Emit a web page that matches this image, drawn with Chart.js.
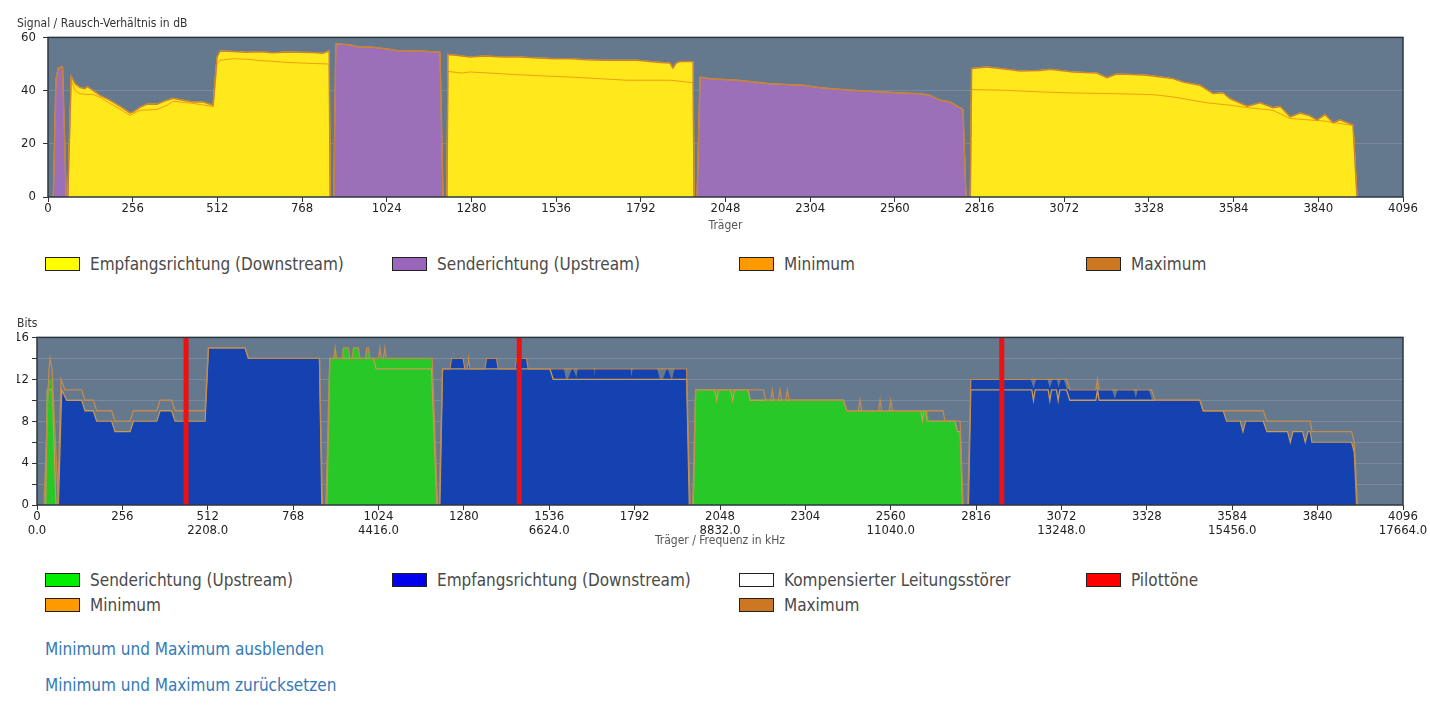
<!DOCTYPE html>
<html lang="de">
<head>
<meta charset="UTF-8">
<title>DSL Spektrum</title>
<script src="https://cdn.jsdelivr.net/npm/chart.js"></script>
<style>
  body { margin: 0; background: #fff; font-family: "DejaVu Sans Condensed", "Liberation Sans", Roboto, sans-serif; }
  .chartBox { position: absolute; left: 17px; width: 1413px; }
  #snrBox { top: 0; height: 237px; }
  #bitsBox { top: 310px; height: 240px; }
  .legend { position: absolute; left: 45px; display: grid; grid-template-columns: repeat(4, 347px); font-size: 17px; color: #4a4a4a; }
  .legend .item { height: 25px; display: flex; align-items: center; white-space: nowrap; }
  .swatch { width: 33px; height: 12px; border: 1px solid #222; margin-right: 10px; }
  .link { position: absolute; left: 45px; color: #3379b7; font-size: 17px; line-height: 24px; text-decoration: none; }
</style>
</head>
<body>
<div id="snrBox" class="chartBox"><canvas id="snrChart"></canvas></div>
<div class="legend" style="top:251px">
  <div class="item"><span class="swatch" style="background:#ffff00"></span>Empfangsrichtung (Downstream)</div>
  <div class="item"><span class="swatch" style="background:#9966bb"></span>Senderichtung (Upstream)</div>
  <div class="item"><span class="swatch" style="background:#ff9900"></span>Minimum</div>
  <div class="item"><span class="swatch" style="background:#cc7722"></span>Maximum</div>
</div>

<div id="bitsBox" class="chartBox"><canvas id="bitsChart"></canvas></div>
<div class="legend" style="top:567px">
  <div class="item"><span class="swatch" style="background:#00ee00"></span>Senderichtung (Upstream)</div>
  <div class="item"><span class="swatch" style="background:#0000ee"></span>Empfangsrichtung (Downstream)</div>
  <div class="item"><span class="swatch" style="background:#ffffff"></span>Kompensierter Leitungsstörer</div>
  <div class="item"><span class="swatch" style="background:#ff0000"></span>Pilottöne</div>
  <div class="item"><span class="swatch" style="background:#ff9900"></span>Minimum</div>
  <div class="item"></div>
  <div class="item"><span class="swatch" style="background:#cc7722"></span>Maximum</div>
</div>

<a class="link" href="#" style="top:637px">Minimum und Maximum ausblenden</a>
<a class="link" href="#" style="top:673px">Minimum und Maximum zurücksetzen</a>

<script>
// ---- data: [carrier, value] per band ----
const carrierTicks = [0, 256, 512, 768, 1024, 1280, 1536, 1792, 2048, 2304, 2560, 2816, 3072, 3328, 3584, 3840, 4096];
const freqTickLabels = ['0.0', '', '2208.0', '', '4416.0', '', '6624.0', '', '8832.0', '', '11040.0', '', '13248.0', '', '15456.0', '', '17664.0'];
const snrTicks = [0, 20, 40, 60];
const bitsTicks = [0, 2, 4, 6, 8, 10, 12, 14, 16];
const bitsTickLabels = ['0', '', '4', '', '8', '', '12', '', '16'];

// Signal / Rausch-Verhältnis
const snrUp = [
  [[16,0],[24,44],[31,48.5],[44,49],[55,0]],
  [[864,0],[870,57.6],[890,57.4],[913,57.2],[943,56.3],[964,56.5],[990,56.2],[1013,55.8],[1040,55.4],[1055,55],[1085,55],[1115,54.9],[1150,54.7],[1185,54.4],[1194,0]],
  [[1962,0],[1971,45.1],[2001,44.5],[2040,44.2],[2083,43.9],[2130,43.3],[2183,42.6],[2230,42.3],[2282,42],[2334,41.1],[2380,40.6],[2434,40.1],[2500,39.6],[2585,39.1],[2640,38.8],[2666,38.2],[2697,36.4],[2727,35.7],[2766,32.9],[2775,0]]
];
const snrDown = [
  [[60,0],[70,45.4],[82,42.6],[97,41.1],[112,40.7],[118,41.6],[136,40.1],[157,38.2],[187,36.4],[218,34.1],[248,31.6],[257,31.9],[278,33.7],[299,34.9],[329,34.9],[360,36.4],[378,37.1],[408,36.4],[438,35.7],[469,35.7],[499,34.5],[511,52.6],[520,54.9],[560,54.7],[600,54.4],[640,54.6],[680,54.2],[720,54.5],[760,54.4],[800,54.3],[830,54],[850,55],[853,0]],
  [[1206,0],[1209,53.6],[1240,53.2],[1276,52.6],[1320,53],[1375,52.6],[1427,52.6],[1478,52.3],[1530,52],[1578,52],[1630,51.6],[1678,51.4],[1730,51.4],[1781,51.4],[1841,50.7],[1880,50.4],[1889,48.5],[1900,50.5],[1911,50.9],[1950,50.9],[1953,0]],
  [[2788,0],[2792,48.3],[2838,48.9],[2898,48],[2938,47.4],[2999,47.6],[3029,48],[3099,47],[3171,46.6],[3201,44.9],[3230,46.2],[3262,46.1],[3322,45.8],[3401,44.5],[3431,43.2],[3483,42],[3522,38.9],[3552,39.2],[3573,37],[3625,34.1],[3664,35.4],[3703,33.6],[3725,34],[3755,30.1],[3785,31.6],[3815,30.5],[3836,28.9],[3860,31],[3885,27.9],[3906,29],[3945,27],[3957,0]]
];
const snrDownMin = [
  [[60,0],[70,44],[82,40],[97,38.8],[112,38.6],[136,38.6],[157,37.5],[187,35.2],[218,33],[248,30.7],[278,32.6],[329,32.9],[360,34.5],[378,36],[438,35.2],[499,34],[511,50],[520,51.4],[560,52],[600,51.8],[640,51.3],[680,51],[720,50.6],[760,50.4],[800,50.2],[850,50],[853,0]],
  [[1206,0],[1209,47.2],[1250,46.6],[1276,47],[1375,46.3],[1478,45.6],[1578,45.1],[1680,44.4],[1750,43.9],[1880,43.9],[1950,43],[1953,0]],
  [[2788,0],[2792,40.4],[2898,40.1],[2999,39.5],[3099,39.1],[3201,38.9],[3340,38.5],[3401,37.6],[3504,35.4],[3573,34.5],[3625,33.6],[3703,32.6],[3755,29.5],[3854,28.6],[3945,26.9],[3957,0]]
];

// Bits pro Träger
const bitsUp = [
  [[24,0],[31,11],[37,12],[47,12],[57,0]],
  [[869,0],[878,14],[890,14],[894,15],[898,14],[915,14],[919,15],[934,15],[938,14],[945,14],[949,15],[964,15],[968,14],[985,14],[989,15],[994,15],[998,14],[1183,14],[1199,0]],
  [[1968,0],[1975,11],[2133,11],[2138,10],[2418,10],[2428,9],[2669,9],[2673,8],[2753,8],[2760,7],[2768,7],[2775,0]]
];
const bitsUpMax = [
  [[21,0],[36,13],[39,14],[45,13],[64,0]],
  [[866,0],[878,14],[890,14],[894,15],[898,14],[915,14],[919,15],[934,15],[938,14],[945,14],[949,15],[964,15],[968,14],[985,14],[989,15],[994,15],[998,14],[1024,14],[1028,15],[1032,14],[1039,14],[1043,15],[1047,14],[1185,14],[1201,0]],
  [[1966,0],[1975,11],[2178,11],[2185,10],[2200,10],[2205,11],[2210,10],[2223,10],[2228,11],[2233,10],[2245,10],[2250,11],[2255,10],[2418,10],[2428,9],[2463,9],[2468,10],[2473,9],[2523,9],[2528,10],[2533,9],[2555,9],[2560,10],[2565,9],[2717,9],[2722,8],[2768,8],[2777,0]]
];
const bitsUpMin = [
  [[26,0],[31,11],[46,11],[57,0]],
  [[869,0],[878,14],[1009,14],[1017,13],[1183,13],[1199,0]],
  [[1968,0],[1975,11],[2032,11],[2038,10],[2044,11],[2080,11],[2086,10],[2092,11],[2133,11],[2138,10],[2418,10],[2428,9],[2650,9],[2655,8],[2660,9],[2665,9],[2669,8],[2753,8],[2760,7],[2768,7],[2775,0]]
];
const bitsDown = [
  [[64,0],[74,11],[89,10],[134,10],[144,9],[169,9],[179,8],[224,8],[234,7],[279,7],[289,8],[359,8],[369,9],[404,9],[414,8],[504,8],[514,15],[624,15],[634,14],[847,14],[854,0]],
  [[1208,0],[1216,13],[1238,13],[1243,14],[1278,14],[1283,13],[1290,13],[1294,14],[1298,13],[1343,13],[1348,14],[1378,14],[1383,13],[1433,13],[1438,14],[1468,14],[1473,13],[1578,13],[1585,12],[1593,12],[1606,13],[1618,12],[1623,13],[1668,13],[1671,12],[1675,13],[1778,13],[1783,12],[1788,13],[1858,13],[1866,12],[1878,12],[1890,13],[1900,12],[1906,12],[1913,13],[1948,13],[1956,0]],
  [[2793,0],[2800,12],[2978,12],[2988,11],[2998,12],[3028,12],[3037,11],[3047,12],[3057,12],[3062,11],[3072,12],[3077,12],[3087,11],[3222,11],[3232,10],[3242,11],[3287,11],[3295,10],[3302,11],[3332,11],[3342,10],[3487,10],[3497,9],[3557,9],[3567,8],[3608,8],[3616,7],[3624,8],[3677,8],[3688,7],[3750,7],[3758,6],[3766,7],[3795,7],[3803,6],[3811,7],[3818,7],[3823,6],[3942,6],[3950,5],[3957,0]]
];
const bitsDownMax = [
  [[62,0],[72,12],[84,11],[134,11],[144,10],[169,10],[179,9],[224,9],[234,8],[279,8],[289,9],[359,9],[369,10],[404,10],[414,9],[504,9],[514,15],[624,15],[634,14],[847,14],[856,0]],
  [[1206,0],[1216,13],[1238,13],[1243,14],[1278,14],[1283,13],[1290,13],[1294,14],[1298,13],[1343,13],[1348,14],[1378,14],[1383,13],[1433,13],[1438,14],[1468,14],[1473,13],[1948,13],[1958,0]],
  [[2791,0],[2800,12],[3087,12],[3097,11],[3175,11],[3180,12],[3185,11],[3342,11],[3352,10],[3487,10],[3497,9],[3677,9],[3688,8],[3818,8],[3823,7],[3942,7],[3950,6],[3959,0]]
];
const bitsDownMin = [
  bitsDown[0],
  [[1208,0],[1216,13],[1538,13],[1548,12],[1948,12],[1956,0]],
  [[2793,0],[2800,11],[2983,11],[2988,10],[2993,11],[3032,11],[3037,10],[3042,11],[3057,11],[3062,10],[3067,11],[3087,11],[3097,10],[3175,10],[3180,11],[3185,10],[3487,10],[3497,9],[3557,9],[3567,8],[3608,8],[3616,7],[3624,8],[3677,8],[3688,7],[3750,7],[3758,6],[3766,7],[3795,7],[3803,6],[3811,7],[3818,7],[3823,6],[3942,6],[3950,5],[3957,0]]
];
const pilotCarriers = [447, 1446, 2893];

// ---- helpers ----
Chart.defaults.font.family = '"DejaVu Sans Condensed", "Liberation Sans", Roboto, sans-serif';

function toPoints(bands) {
  const pts = [];
  bands.forEach(band => {
    band.forEach(([x, y]) => pts.push({ x, y }));
    pts.push({ x: band[band.length - 1][0], y: null });
  });
  return pts;
}
function merge(...lists) {
  return [].concat(...lists).sort((a, b) => a[0][0] - b[0][0]);
}
function area(bands, color) {
  return { data: toPoints(bands), backgroundColor: color, borderColor: color, borderWidth: 1, fill: 'origin', pointRadius: 0, tension: 0, spanGaps: false };
}
function trace(bands, color, width) {
  return { data: toPoints(bands), borderColor: color, borderWidth: width, fill: false, pointRadius: 0, tension: 0, spanGaps: false };
}

const plotFrame = {
  id: 'plotFrame',
  beforeDraw(chart) {
    const { ctx, chartArea: a } = chart;
    ctx.save();
    ctx.fillStyle = '#64798d';
    ctx.fillRect(a.left, a.top, a.width, a.height);
    ctx.restore();
  },
  afterDatasetsDraw(chart) {
    const { ctx, chartArea: a } = chart;
    ctx.save();
    ctx.strokeStyle = '#2c3640';
    ctx.lineWidth = 1.5;
    ctx.strokeRect(a.left, a.top, a.width, a.height);
    ctx.restore();
  }
};

function makeOptions(cfg) {
  return {
    responsive: true,
    maintainAspectRatio: false,
    animation: false,
    events: [],
    layout: { padding: { left: 0, right: 27, top: 0, bottom: 0 } },
    plugins: {
      legend: { display: false },
      tooltip: { enabled: false },
      title: {
        display: true, text: cfg.title, align: 'start', color: '#333',
        font: { size: 12, weight: 'normal' }, padding: cfg.titlePadding
      }
    },
    scales: {
      x: {
        type: 'linear', min: 0, max: 4096,
        afterBuildTicks: s => { s.ticks = carrierTicks.map(v => ({ value: v })); },
        ticks: { autoSkip: false, maxRotation: 0, color: '#222', padding: 0, font: { size: 13, lineHeight: 1.05 }, callback: cfg.xLabel },
        grid: { drawOnChartArea: false, drawTicks: true, tickLength: 5, tickColor: '#333' },
        border: { display: false },
        title: { display: true, text: cfg.xTitle, color: '#555', font: { size: 12 }, padding: { top: 0, bottom: cfg.xTitlePad } },
        afterFit: s => { s.height = cfg.xHeight; s.paddingLeft = 0; s.paddingRight = 0; }
      },
      y: {
        min: 0, max: cfg.yMax,
        afterBuildTicks: s => { s.ticks = cfg.yTicks.map(v => ({ value: v })); },
        ticks: { color: '#222', padding: cfg.yPad, font: { size: 13 }, callback: cfg.yLabel },
        grid: { color: 'rgba(255,255,255,0.13)', drawTicks: true, tickLength: 5, tickColor: '#333' },
        border: { display: false },
        afterFit: s => { s.width = cfg.yWidth; s.paddingTop = 0; s.paddingBottom = 0; }
      }
    }
  };
}

// ---- SNR chart ----
new Chart(document.getElementById('snrChart'), {
  type: 'line',
  data: {
    datasets: [
      trace(merge(snrDown, snrUp), '#c8823a', 1.5),
      trace(merge(snrDownMin, snrUp), '#f0a010', 1),
      area(snrDown, '#ffe81c'),
      area(snrUp, '#9b70b8')
    ]
  },
  options: makeOptions({
    title: 'Signal / Rausch-Verhältnis in dB',
    titlePadding: { top: 17, bottom: 6 },
    xTitle: 'Träger', xTitlePad: 4, xHeight: 40,
    xLabel: v => String(v),
    yMax: 60, yTicks: snrTicks, yPad: 7, yWidth: 31,
    yLabel: v => String(v)
  }),
  plugins: [plotFrame]
});

// ---- Bits chart ----
const pilotBands = pilotCarriers.map(c => [[c, 0], [c, 16]]);
new Chart(document.getElementById('bitsChart'), {
  type: 'line',
  data: {
    datasets: [
      trace(pilotBands, '#ee1111', 5),
      trace(merge(bitsUpMax, bitsDownMax), '#c08a50', 1.3),
      trace(merge(bitsUpMin, bitsDownMin), '#c89a55', 1.3),
      area(bitsDown, '#1442b0'),
      area(bitsUp, '#28c828')
    ]
  },
  options: makeOptions({
    title: 'Bits',
    titlePadding: { top: 7, bottom: 6 },
    xTitle: 'Träger / Frequenz in kHz', xTitlePad: 2, xHeight: 45,
    xLabel: (v, i) => freqTickLabels[i] ? [String(v), freqTickLabels[i]] : String(v),
    yMax: 16, yTicks: bitsTicks, yPad: 3, yWidth: 20,
    yLabel: (v, i) => bitsTickLabels[i]
  }),
  plugins: [plotFrame]
});
</script>
</body>
</html>
